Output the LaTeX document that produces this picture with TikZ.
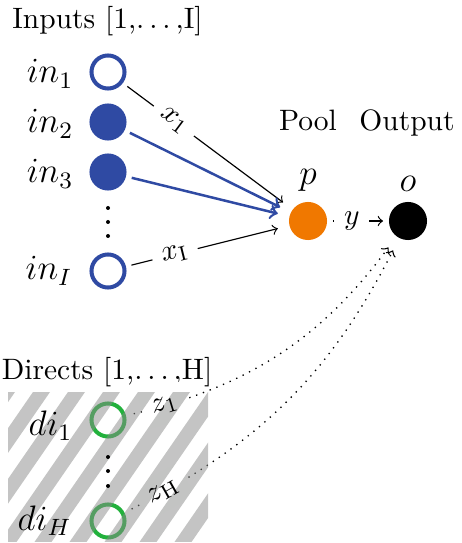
\documentclass[tikz,border=0pt]{standalone}
\definecolor{inblue}{RGB}{47,74,163}
\definecolor{poolorange}{RGB}{240,120,0}
\definecolor{directgreen}{RGB}{34,177,60}
\definecolor{stripegray}{RGB}{137,138,137}
% spaced ellipsis in the style of the classic text \ldots
\newcommand{\spdots}{.\kern1.67pt.\kern1.67pt.\kern1.67pt}
\tikzset{
  inring/.style={circle, draw=inblue, line width=1.36pt, minimum size=11.2pt, inner sep=0pt},
  indisk/.style={inring, fill=inblue},
  diring/.style={circle, draw=directgreen, line width=1.36pt, minimum size=11.2pt, inner sep=0pt},
  bigdot/.style={circle, minimum size=12.9pt, inner sep=0pt, outer sep=0pt},
  wire/.style={->, line width=0.4pt, shorten <=1.9pt, shorten >=4.1pt},
  bluewire/.style={->, draw=inblue, line width=0.85pt, shorten <=2pt, shorten >=4.1pt},
  direct/.style={->, dotted, line width=0.45pt, shorten <=2.7pt, shorten >=4.7pt},
  edgelab/.style={sloped, fill=white},
  sidelab/.style={anchor=east, inner sep=0pt, font=\large},
}
\begin{document}
\begin{tikzpicture}[x=0.339pt, y=-0.339pt]
\useasboundingbox (0,0) rectangle (461,543);

% input layer
\node (intitle) at (107.5,21.5) {Inputs [1,\spdots,I]};
\node[inring] (in1) at (108,72) {};
\node[indisk] (in2) at (108,122) {};
\node[indisk] (in3) at (108,172) {};
\node[inring] (inI) at (108,271) {};
\foreach \yy in {208,222,236} \fill (108,\yy) circle (2);
\node[sidelab] (lin1) at (74,74) {$in_1$};
\node[sidelab] (lin2) at (74,124) {$in_2$};
\node[sidelab] (lin3) at (74,174) {$in_3$};
\node[sidelab] (linI) at (73,271) {$in_I$};

% pool and output
\node[anchor=base] (pooltitle) at (308,131) {Pool};
\node[anchor=base] (outtitle) at (407,131) {Output};
\node[bigdot, fill=poolorange, label={[name=plab, font=\large]above:$p$}] (pool) at (308,221) {};
\node[bigdot, fill=black, label={[name=olab, font=\large]above:$o$}] (out) at (408,221) {};

\draw[wire] (in1) -- node[edgelab, pos=0.3] (xone) {$x_1$} (pool);
\draw[bluewire] (in2) -- (pool);
\draw[bluewire] (in3) -- (pool);
\draw[wire] (inI) -- node[edgelab, pos=0.3] (xI) {$x_{\mathrm{I}}$} (pool);
\draw[wire, shorten <=2pt, shorten >=2pt] (pool) -- node[fill=white, pos=0.4] (ylab) {$y$} (out);

% direct inputs
\node (dititle) at (107,372) {Directs [1,\spdots,H]};
\node[diring] (di1) at (108,420) {};
\node[diring] (diH) at (108,521) {};
\draw[direct] (di1) to[bend right=20] node[edgelab, pos=0.11] (zonebox) {\phantom{$z_1$}} (out);
\draw[direct] (diH) to[bend right=18] node[edgelab, pos=0.1] (zHbox) {\phantom{$z_{\mathrm{H}}$}} (out);

% hatched panel laid over the direct inputs
\begin{scope}
  \clip (8,392) rectangle (208,541);
  \foreach \k in {-2,...,8}
    \draw[stripegray, opacity=0.5, line width=4.75pt] ({69.1+35*\k},352) -- ({-96.5+35*\k},592);
\end{scope}

\foreach \yy in {457,471,486} \fill (108,\yy) circle (2);
\node[sidelab] (ldi1) at (73,426) {$di_1$};
\node[sidelab] (ldiH) at (72,521) {$di_H$};
\path[direct, draw=none] (di1) to[bend right=20] node[sloped, pos=0.11] (zone) {$z_1$} (out);
\path[direct, draw=none] (diH) to[bend right=18] node[sloped, pos=0.1] (zH) {$z_{\mathrm{H}}$} (out);
\end{tikzpicture}
\end{document}
